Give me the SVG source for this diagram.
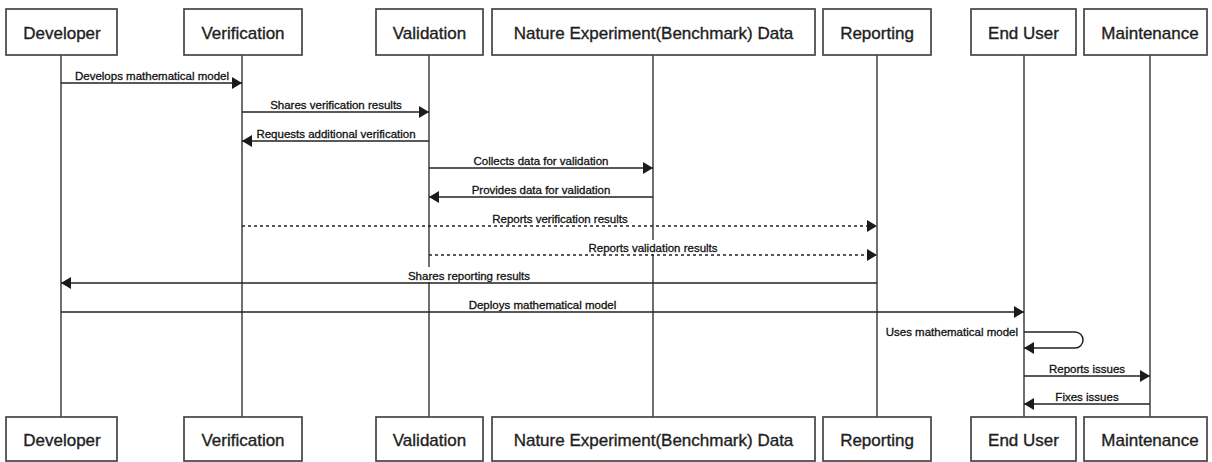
<svg xmlns="http://www.w3.org/2000/svg" width="1212" height="462" viewBox="0 0 1212 462">
  <style>
    .actor rect { fill: #ffffff; stroke: #444; stroke-width: 1.7; }
    .actor text { font-family: "Liberation Sans", Arial, sans-serif; font-size: 17px; fill: #1e1e1e; stroke: #1e1e1e; stroke-width: 0.35; text-anchor: middle; }
    .lifeline { stroke: #333; stroke-width: 1.4; fill: none; }
    .msg { stroke: #222; stroke-width: 1.5; fill: none; }
    .dashed { stroke-dasharray: 3 3; }
    .label { font-family: "Liberation Sans", Arial, sans-serif; font-size: 11.5px; fill: #111; stroke: #111; stroke-width: 0.3; text-anchor: middle; }
    .label-bg { fill: #ffffff; }
  </style>
  <defs>
    <marker id="arrow" markerUnits="userSpaceOnUse" markerWidth="11" markerHeight="12" refX="10" refY="6" orient="auto">
      <path d="M0,0 L10,6 L0,12 z" fill="#1a1a1a"/>
    </marker>
  </defs>

  <rect width="1212" height="462" fill="#ffffff"/>

  <!-- lifelines -->
  <g id="lifelines">
    <line class="lifeline" x1="61" y1="55" x2="61" y2="417"/>
    <line class="lifeline" x1="242" y1="55" x2="242" y2="417"/>
    <line class="lifeline" x1="429" y1="55" x2="429" y2="417"/>
    <line class="lifeline" x1="653" y1="55" x2="653" y2="417"/>
    <line class="lifeline" x1="877" y1="55" x2="877" y2="417"/>
    <line class="lifeline" x1="1024" y1="55" x2="1024" y2="417"/>
    <line class="lifeline" x1="1150" y1="55" x2="1150" y2="417"/>
  </g>

  <!-- actors, top row -->
  <g id="developer-top" class="actor"><rect x="6" y="9" width="111" height="46"/><text x="62" y="39">Developer</text></g>
  <g id="verification-top" class="actor"><rect x="184" y="9" width="118" height="46"/><text x="243" y="39">Verification</text></g>
  <g id="validation-top" class="actor"><rect x="376" y="9" width="107" height="46"/><text x="429.5" y="39">Validation</text></g>
  <g id="benchmark-top" class="actor"><rect x="492" y="9" width="323" height="46"/><text x="653.5" y="39">Nature Experiment(Benchmark) Data</text></g>
  <g id="reporting-top" class="actor"><rect x="823" y="9" width="108" height="46"/><text x="877" y="39">Reporting</text></g>
  <g id="enduser-top" class="actor"><rect x="971" y="9" width="105" height="46"/><text x="1023.5" y="39">End User</text></g>
  <g id="maintenance-top" class="actor"><rect x="1084" y="9" width="123" height="46"/><text x="1150" y="39">Maintenance</text></g>

  <!-- actors, bottom row -->
  <g id="developer-bottom" class="actor"><rect x="6" y="417" width="111" height="44"/><text x="62" y="446">Developer</text></g>
  <g id="verification-bottom" class="actor"><rect x="184" y="417" width="118" height="44"/><text x="243" y="446">Verification</text></g>
  <g id="validation-bottom" class="actor"><rect x="376" y="417" width="107" height="44"/><text x="429.5" y="446">Validation</text></g>
  <g id="benchmark-bottom" class="actor"><rect x="492" y="417" width="323" height="44"/><text x="653.5" y="446">Nature Experiment(Benchmark) Data</text></g>
  <g id="reporting-bottom" class="actor"><rect x="823" y="417" width="108" height="44"/><text x="877" y="446">Reporting</text></g>
  <g id="enduser-bottom" class="actor"><rect x="971" y="417" width="105" height="44"/><text x="1023.5" y="446">End User</text></g>
  <g id="maintenance-bottom" class="actor"><rect x="1084" y="417" width="123" height="44"/><text x="1150" y="446">Maintenance</text></g>

  <!-- messages -->
  <g id="connectors">
    <rect class="label-bg" x="73" y="69" width="160" height="13"/>
    <text class="label" x="152" y="79.5">Develops mathematical model</text>
    <line class="msg" x1="61" y1="83" x2="242" y2="83" marker-end="url(#arrow)"/>

    <rect class="label-bg" x="268" y="98" width="137" height="13"/>
    <text class="label" x="336" y="108.5">Shares verification results</text>
    <line class="msg" x1="242" y1="112" x2="429" y2="112" marker-end="url(#arrow)"/>

    <rect class="label-bg" x="255" y="127" width="164" height="13"/>
    <text class="label" x="336" y="137.5">Requests additional verification</text>
    <line class="msg" x1="429" y1="141" x2="242" y2="141" marker-end="url(#arrow)"/>

    <rect class="label-bg" x="474" y="154" width="134" height="13"/>
    <text class="label" x="541" y="164.5">Collects data for validation</text>
    <line class="msg" x1="429" y1="168" x2="653" y2="168" marker-end="url(#arrow)"/>

    <rect class="label-bg" x="474" y="183" width="134" height="13"/>
    <text class="label" x="541" y="193.5">Provides data for validation</text>
    <line class="msg" x1="653" y1="197" x2="429" y2="197" marker-end="url(#arrow)"/>

    <rect class="label-bg" x="490" y="212" width="140" height="13"/>
    <text class="label" x="560" y="222.5">Reports verification results</text>
    <line class="msg dashed" x1="242" y1="226" x2="877" y2="226" marker-end="url(#arrow)"/>

    <rect class="label-bg" x="586" y="240" width="135" height="14"/>
    <text class="label" x="653" y="251.5">Reports validation results</text>
    <line class="msg dashed" x1="429" y1="255" x2="877" y2="255" marker-end="url(#arrow)"/>

    <rect class="label-bg" x="406" y="267" width="127" height="15"/>
    <text class="label" x="469" y="279.5">Shares reporting results</text>
    <line class="msg" x1="877" y1="283" x2="61" y2="283" marker-end="url(#arrow)"/>

    <rect class="label-bg" x="466" y="298" width="154" height="13"/>
    <text class="label" x="542.5" y="308.5">Deploys mathematical model</text>
    <line class="msg" x1="61" y1="312" x2="1024" y2="312" marker-end="url(#arrow)"/>

    <text class="label" x="1018" y="336" style="text-anchor: end">Uses mathematical model</text>
    <path class="msg" d="M1024,332 H1075 A8,8 0 0 1 1075,348 H1024" marker-end="url(#arrow)"/>

    <rect class="label-bg" x="1047" y="362" width="80" height="13"/>
    <text class="label" x="1087" y="372.5">Reports issues</text>
    <line class="msg" x1="1024" y1="376" x2="1150" y2="376" marker-end="url(#arrow)"/>

    <rect class="label-bg" x="1054" y="390" width="67" height="13"/>
    <text class="label" x="1087" y="400.5">Fixes issues</text>
    <line class="msg" x1="1150" y1="404" x2="1024" y2="404" marker-end="url(#arrow)"/>
  </g>
</svg>
